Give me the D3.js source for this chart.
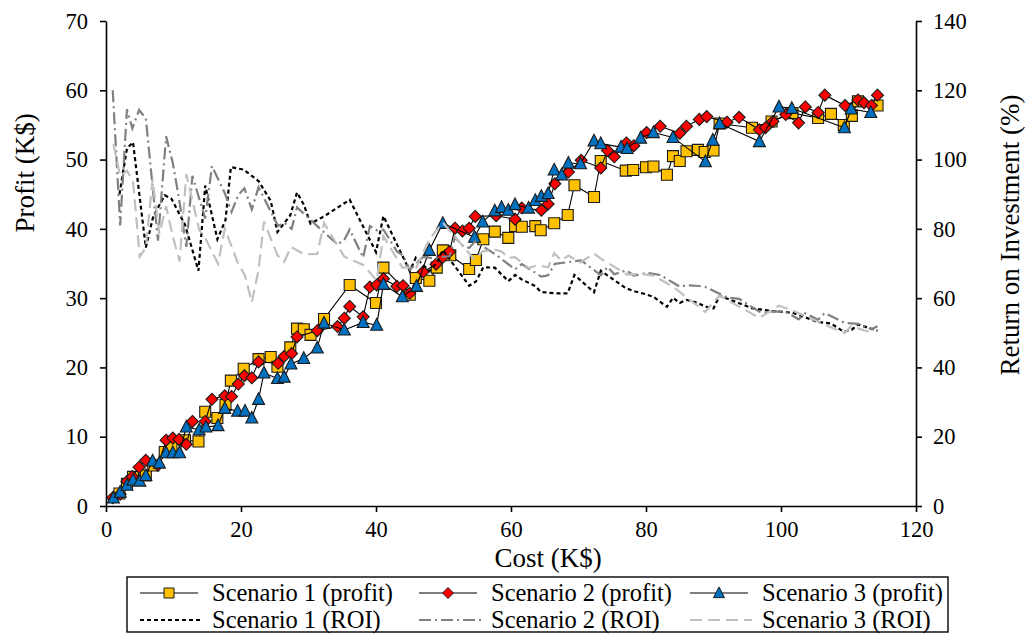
<!DOCTYPE html>
<html>
<head>
<meta charset="utf-8">
<script src="https://cdn.jsdelivr.net/npm/d3@7"></script>
<style>body { margin: 0; background: #fff; }</style>
</head>
<body>
<svg id="chart" width="1028" height="635"></svg>
<script>
// Axis ticks
const costTicks = [0, 20, 40, 60, 80, 100, 120];
const profitTicks = [0, 10, 20, 30, 40, 50, 60, 70];
const roiTicks = [0, 20, 40, 60, 80, 100, 120, 140];

// Scenario 1
const s1Cost = [2.0,3.1,4.0,5.9,7.0,8.7,9.7,11.7,13.7,14.7,16.5,17.7,18.5,20.4,22.6,24.4,25.4,27.3,28.3,29.3,30.3,32.3,36.1,40.0,41.1,45.0,45.9,47.9,49.0,49.9,51.0,53.8,54.8,55.9,57.6,59.6,60.6,61.6,63.6,64.4,66.4,68.4,69.4,72.3,73.3,77.0,78.1,80.0,81.1,83.1,84.0,85.0,86.0,87.7,88.7,90.0,90.9,95.7,98.6,101.7,105.5,107.4,109.3,110.5,111.4,114.3];
const s1Profit = [1.8,3.2,4.2,4.4,5.85,7.8,8.6,9.5,9.3,13.6,12.7,14.6,18.1,19.8,21.2,21.5,20.1,22.9,25.6,25.5,24.7,27.0,31.9,29.3,34.4,30.5,32.9,32.5,34.4,36.9,36.2,34.2,35.5,38.5,39.6,38.7,40.4,40.3,40.4,39.8,40.8,42.0,46.3,44.6,49.8,48.4,48.5,48.9,49.0,47.8,50.5,49.8,51.2,51.4,51.1,51.3,55.2,54.6,55.5,56.7,56.0,56.6,55.0,56.3,58.4,57.8];
const s1Roi = [90.0,103.2,105.0,74.6,83.6,89.7,88.7,81.2,67.9,92.5,77.0,82.5,97.8,97.1,93.8,88.1,79.1,83.9,90.5,87.0,81.5,83.6,88.4,73.3,83.7,67.8,71.7,67.8,70.2,73.9,71.0,63.6,64.8,68.9,68.8,64.9,66.7,65.4,63.5,61.8,61.4,61.4,66.7,61.7,67.9,62.9,62.1,61.1,60.4,57.5,60.1,58.6,59.5,58.6,57.6,57.0,60.7,57.1,56.3,55.8,53.1,52.7,50.3,50.9,52.4,50.6];

// Scenario 2
const s2Cost = [1.0,2.1,3.1,3.9,4.9,5.9,7.7,8.9,9.9,10.8,11.9,12.8,14.7,15.7,17.6,18.6,19.6,20.5,21.6,22.6,25.5,26.4,27.5,28.3,31.3,34.3,35.3,36.1,38.1,39.1,40.1,41.1,43.1,44.0,45.0,47.0,48.9,49.9,50.9,51.7,52.8,53.8,54.7,57.8,60.6,61.6,64.5,65.5,66.5,68.5,70.4,73.3,74.3,75.3,77.1,78.2,80.1,82.1,85.0,86.0,87.9,89.0,92.0,93.8,96.8,97.7,98.8,100.7,102.6,103.6,105.5,106.5,109.5,111.4,112.3,113.4,114.3];
const s2Profit = [1.2,1.7,3.55,4.25,5.6,6.6,5.9,9.5,9.8,9.6,8.9,12.2,12.2,15.4,15.9,15.8,17.6,18.8,18.5,20.8,20.6,21.6,22.0,24.4,25.3,25.9,27.1,28.8,27.3,31.6,31.9,32.8,31.7,31.8,30.7,33.8,34.9,35.9,36.7,40.1,39.7,40.1,41.8,41.9,41.4,43.0,42.7,43.6,46.5,48.2,49.9,48.8,51.3,50.4,52.4,52.0,53.9,54.8,53.8,54.8,55.8,56.2,55.4,56.1,54.3,54.6,55.5,56.5,55.3,57.6,56.8,59.3,57.8,58.6,58.2,57.8,59.3];
const s2Roi = [120.0,81.0,114.5,109.0,114.3,111.9,76.6,106.7,99.0,88.9,74.8,95.3,83.0,98.1,90.3,84.9,89.8,91.7,85.6,92.0,80.8,81.8,80.0,86.2,80.8,75.5,76.8,79.8,71.7,80.8,79.6,79.8,73.5,72.3,68.2,71.9,71.4,71.9,72.1,77.6,75.2,74.5,76.4,72.5,68.3,69.8,66.2,66.6,69.9,70.4,70.9,66.6,69.0,66.9,68.0,66.5,67.3,66.7,63.3,63.7,63.5,63.1,60.2,59.8,56.1,55.9,56.2,56.1,53.9,55.6,53.8,55.7,52.8,52.6,51.8,51.0,51.9];

// Scenario 3
const s3Cost = [1.1,2.1,3.1,4.0,5.0,5.9,6.9,7.9,8.9,9.9,10.9,11.9,13.8,14.8,16.6,17.6,19.5,20.6,21.6,22.6,23.4,25.4,26.4,27.4,29.3,31.3,32.3,35.3,38.1,40.1,41.1,43.9,46.0,47.9,49.9,54.6,55.8,57.6,58.6,59.6,60.6,62.6,63.6,64.5,65.5,66.4,67.5,68.5,70.3,72.3,73.3,76.3,77.2,79.2,81.1,84.0,88.8,89.9,90.9,96.8,99.7,101.6,109.4,110.4,113.3];
const s3Profit = [1.15,2.0,3.0,3.75,3.6,4.4,6.5,6.2,7.7,7.7,7.7,11.4,11.0,11.4,11.6,14.1,13.7,13.7,12.7,15.4,19.2,18.4,18.6,20.5,21.3,22.8,26.4,25.4,26.5,26.1,32.0,30.2,31.7,36.9,40.8,38.8,41.0,42.6,43.1,42.7,43.5,43.0,44.1,44.7,45.1,48.5,47.8,49.5,49.4,52.7,52.3,51.8,51.6,53.1,53.9,53.2,49.7,52.8,55.2,52.6,57.6,57.4,54.6,57.3,56.8];
const s3Roi = [104.5,95.2,96.8,93.8,72.0,74.6,94.2,78.5,86.5,77.8,70.6,95.8,79.7,77.0,69.9,80.1,70.3,66.5,58.8,68.1,82.1,72.4,70.5,74.8,72.7,72.8,81.7,72.0,69.6,65.1,77.9,68.8,68.9,77.0,81.8,71.1,73.5,74.0,73.5,71.6,71.8,68.7,69.3,69.3,68.9,73.0,70.8,72.3,70.3,72.9,71.4,67.9,66.8,67.0,66.5,63.3,56.0,58.7,60.7,54.3,57.8,56.5,49.9,51.9,50.1];

const FONT = "Liberation Serif";

// Marker outlines, centred on the point
const shapes = {
  square: s => `M${-s/2},${-s/2}h${s}v${s}h${-s}Z`,
  diamond: s => `M0,${-s/2}L${s/2},0L0,${s/2}L${-s/2},0Z`,
  triangle: s => `M0,${-s*0.55}L${s/2},${s*0.42}L${-s/2},${s*0.42}Z`
};

const profitSeries = [
  { name: "Scenario 1 (profit)", cost: s1Cost, values: s1Profit, shape: "square", size: 11, fill: "#FFC000" },
  { name: "Scenario 2 (profit)", cost: s2Cost, values: s2Profit, shape: "diamond", size: 12, fill: "#FF0000" },
  { name: "Scenario 3 (profit)", cost: s3Cost, values: s3Profit, shape: "triangle", size: 12, fill: "#0070C0" }
];
const roiSeries = [
  { name: "Scenario 1 (ROI)", cost: s1Cost, values: s1Roi, color: "#000000", dash: "4,3" },
  { name: "Scenario 2 (ROI)", cost: s2Cost, values: s2Roi, color: "#808080", dash: "12,4,2,4" },
  { name: "Scenario 3 (ROI)", cost: s3Cost, values: s3Roi, color: "#C0C0C0", dash: "12,6" }
];

const svg = d3.select("#chart");
const x = d3.scaleLinear().domain([0, 120]).range([106, 916]);
const yP = d3.scaleLinear().domain([0, 70]).range([506, 21]);
const yR = d3.scaleLinear().domain([0, 140]).range([506, 21]);

function styleAxis(g) {
  g.select(".domain").attr("stroke", "#000").attr("stroke-width", 1.6);
  g.selectAll(".tick line").attr("stroke", "#000").attr("stroke-width", 1.6);
  g.selectAll(".tick text").attr("fill", "#000").attr("font-size", 22.5);
}

svg.append("g").attr("transform", "translate(0,506)")
  .call(d3.axisBottom(x).tickValues(costTicks).tickSize(6).tickSizeOuter(0).tickPadding(9))
  .call(styleAxis);
svg.append("g").attr("transform", "translate(106,0)")
  .call(d3.axisLeft(yP).tickValues(profitTicks).tickSize(6).tickSizeOuter(0).tickPadding(12))
  .call(styleAxis);
svg.append("g").attr("transform", "translate(916,0)")
  .call(d3.axisRight(yR).tickValues(roiTicks).tickSize(6).tickSizeOuter(0).tickPadding(11))
  .call(styleAxis);

// Axis titles
svg.append("text").attr("x", 548).attr("y", 567).attr("text-anchor", "middle")
  .attr("font-size", 27).text("Cost (K$)");
svg.append("text").attr("transform", "translate(34,173) rotate(-90)").attr("text-anchor", "middle")
  .attr("font-size", 27).text("Profit (K$)");
svg.append("text").attr("transform", "translate(1019,235) rotate(-90)").attr("text-anchor", "middle")
  .attr("font-size", 27).text("Return on Investment (%)");

// Profit series: connecting line then markers
const plot = svg.append("g");
profitSeries.forEach(s => {
  const pts = s.cost.map((c, i) => [c, s.values[i]]);
  const line = d3.line().x(d => x(d[0])).y(d => yP(d[1]));
  const g = plot.append("g");
  g.append("path").attr("d", line(pts)).attr("fill", "none")
    .attr("stroke", "#000").attr("stroke-width", 1.1);
  g.selectAll("path.mk").data(pts).join("path").attr("class", "mk")
    .attr("d", shapes[s.shape](s.size))
    .attr("transform", d => `translate(${x(d[0])},${yP(d[1])})`)
    .attr("fill", s.fill).attr("stroke", "#1a1a1a").attr("stroke-width", 1.1);
});

// ROI series on the secondary axis
roiSeries.forEach(s => {
  const pts = s.cost.map((c, i) => [c, s.values[i]]);
  const line = d3.line().x(d => x(d[0])).y(d => yR(d[1]));
  plot.append("path").attr("d", line(pts)).attr("fill", "none")
    .attr("stroke", s.color).attr("stroke-width", 2.2).attr("stroke-dasharray", s.dash);
});

// Legend
const legend = svg.append("g");
legend.append("rect").attr("x", 127).attr("y", 577).attr("width", 821).attr("height", 55)
  .attr("fill", "#fff").attr("stroke", "#000").attr("stroke-width", 1.4);
const colX = [140, 419, 690];
const rowY = [593, 620];
profitSeries.forEach((s, i) => {
  const g = legend.append("g").attr("transform", `translate(${colX[i]},${rowY[0]})`);
  g.append("line").attr("x1", 0).attr("x2", 58).attr("stroke", "#000").attr("stroke-width", 1.1);
  g.append("path").attr("d", shapes[s.shape](s.shape === "square" ? 10 : 11))
    .attr("transform", "translate(29,0)").attr("fill", s.fill).attr("stroke", "#1a1a1a").attr("stroke-width", 1);
  g.append("text").attr("x", 72).attr("y", 8).attr("font-size", 24.5).text(s.name);
});
roiSeries.forEach((s, i) => {
  const g = legend.append("g").attr("transform", `translate(${colX[i]},${rowY[1]})`);
  g.append("line").attr("x1", 0).attr("x2", 62).attr("stroke", s.color).attr("stroke-width", 2)
    .attr("stroke-dasharray", s.dash);
  g.append("text").attr("x", 72).attr("y", 8).attr("font-size", 24.5).text(s.name);
});

// Serif face on every label, set on each text element itself
svg.selectAll("g").attr("font-family", null);
svg.selectAll("text").attr("font-family", FONT).style("font-family", FONT).attr("fill", "#000");
</script>
</body>
</html>
